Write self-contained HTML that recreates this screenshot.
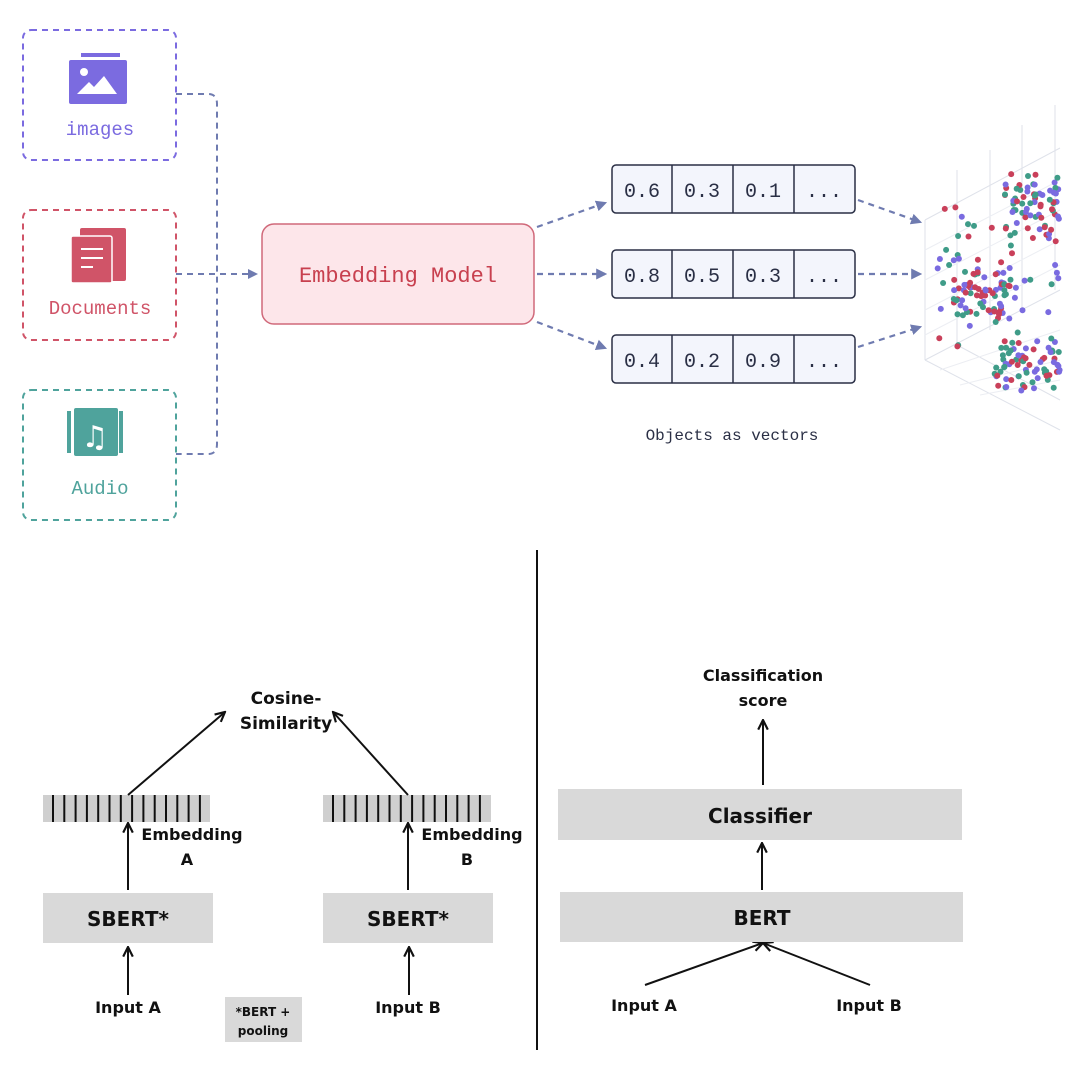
<!DOCTYPE html>
<html><head><meta charset="utf-8"><style>
html,body{margin:0;padding:0;background:#fff;width:1080px;height:1080px;overflow:hidden}
svg{display:block}
.m{font-family:"Liberation Mono","DejaVu Sans Mono",monospace}
.b{font-family:"DejaVu Sans","Liberation Sans",sans-serif;font-weight:bold;fill:#111}
</style></head><body>
<svg id="s" width="1080" height="1080" viewBox="0 0 1080 1080" xmlns="http://www.w3.org/2000/svg">
<defs>
<marker id="ab" viewBox="0 0 10 10" refX="8" refY="5" markerWidth="5" markerHeight="5" orient="auto"><path d="M0,0 L10,5 L0,10 z" fill="#6f7bb0"/></marker>
<marker id="ak" viewBox="0 0 10 10" refX="9" refY="5" markerWidth="6" markerHeight="6" orient="auto"><path d="M1,1 L9,5 L1,9" fill="none" stroke="#111" stroke-width="1.8"/></marker>
</defs>
<rect x="23" y="30" width="153" height="130" rx="8" fill="none" stroke="#7b6be0" stroke-width="2" stroke-dasharray="6,5"/>
<rect x="23" y="210" width="153" height="130" rx="8" fill="none" stroke="#d05468" stroke-width="2" stroke-dasharray="6,5"/>
<rect x="23" y="390" width="153" height="130" rx="8" fill="none" stroke="#4fa39c" stroke-width="2" stroke-dasharray="6,5"/>
<rect x="81" y="53" width="39" height="4" fill="#7b6be0"/>
<rect x="69" y="60" width="58" height="44" rx="2" fill="#7b6be0"/>
<circle cx="84" cy="72" r="4" fill="#fff"/>
<path d="M77,94 L89,82 L94,87 L104,76 L117,94 z" fill="#fff"/>
<rect x="80" y="228" width="46" height="53" rx="2" fill="#d05468"/>
<rect x="71" y="236" width="41" height="47" rx="2" fill="#d05468" stroke="#fff" stroke-width="1.5"/>
<rect x="81" y="248" width="22" height="2" fill="#fff"/><rect x="81" y="257" width="22" height="2" fill="#fff"/><rect x="81" y="266" width="12" height="2" fill="#fff"/>
<rect x="67" y="411" width="4" height="42" fill="#4fa39c"/><rect x="119" y="411" width="4" height="42" fill="#4fa39c"/>
<rect x="74" y="408" width="44" height="48" rx="2" fill="#4fa39c"/>
<text x="95" y="447" font-size="30" fill="#fff" text-anchor="middle" font-family="DejaVu Sans">♫</text>
<text x="100" y="135" class="m" font-size="19" fill="#7b6be0" text-anchor="middle">images</text>
<text x="100" y="314" class="m" font-size="19" fill="#d05468" text-anchor="middle">Documents</text>
<text x="100" y="494" class="m" font-size="19" fill="#4fa39c" text-anchor="middle">Audio</text>
<g fill="none" stroke="#6f7bb0" stroke-width="2" stroke-dasharray="6,5">
<path d="M176,94 H208 Q217,94 217,104 V444 Q217,454 208,454 H176"/>
<path d="M176,274 H256" marker-end="url(#ab)"/>
</g>
<rect x="262" y="224" width="272" height="100" rx="12" fill="#fde6ea" stroke="#d0697a" stroke-width="1.5"/>
<text x="398" y="282" class="m" font-size="22" fill="#c8404f" text-anchor="middle">Embedding Model</text>
<g fill="none" stroke="#6f7bb0" stroke-width="2.2" stroke-dasharray="6,5">
<path d="M537,227 L605,203" marker-end="url(#ab)"/>
<path d="M537,274 L605,274" marker-end="url(#ab)"/>
<path d="M537,322 L605,348" marker-end="url(#ab)"/>
<path d="M858,200 L920,222" marker-end="url(#ab)"/>
<path d="M858,274 L920,274" marker-end="url(#ab)"/>
<path d="M858,347 L920,327" marker-end="url(#ab)"/>
</g>
<g class="m" font-size="20" fill="#2a2f45" text-anchor="middle">
<rect x="612" y="165" width="243" height="48" rx="4" fill="#f3f5fc" stroke="#2a2f45" stroke-width="1.5"/>
<rect x="612" y="250" width="243" height="48" rx="4" fill="#f3f5fc" stroke="#2a2f45" stroke-width="1.5"/>
<rect x="612" y="335" width="243" height="48" rx="4" fill="#f3f5fc" stroke="#2a2f45" stroke-width="1.5"/>
<path d="M672,165V213M733,165V213M794,165V213M672,250V298M733,250V298M794,250V298M672,335V383M733,335V383M794,335V383" stroke="#2a2f45" stroke-width="1.5"/>
<text x="642" y="197">0.6</text><text x="702" y="197">0.3</text><text x="763" y="197">0.1</text><text x="824" y="197">...</text>
<text x="642" y="282">0.8</text><text x="702" y="282">0.5</text><text x="763" y="282">0.3</text><text x="824" y="282">...</text>
<text x="642" y="367">0.4</text><text x="702" y="367">0.2</text><text x="763" y="367">0.9</text><text x="824" y="367">...</text>
</g>
<text x="732" y="440" class="m" font-size="16" fill="#2a2f45" text-anchor="middle">Objects as vectors</text>
<g id="grid" stroke="#dfe2ea" stroke-width="1" fill="none">
<path d="M957,170 V345 M925,220 V360 M990,150 V330 M1022,125 V310 M1055,105 V290"/>
<path d="M925,220 L1060,148 M925,360 L1060,290 M957,345 L1060,400 M925,360 L1060,430"/>
<path d="M925,250 L1060,180 M925,280 L1060,210 M925,310 L1060,240 M925,335 L1060,265" stroke="#eceef3"/>
<path d="M940,370 L1060,330 M960,385 L1060,360 M980,395 L1060,380" stroke="#eceef3"/>
</g>
<g id="dots"></g>
<line x1="537" y1="550" x2="537" y2="1050" stroke="#111" stroke-width="2"/>
<text x="286" y="704" class="b" font-size="17" text-anchor="middle">Cosine-</text>
<text x="286" y="729" class="b" font-size="17" text-anchor="middle">Similarity</text>
<rect x="43" y="795" width="167" height="27" fill="#cfcfcf"/>
<rect x="323" y="795" width="168" height="27" fill="#cfcfcf"/>
<g id="bars" stroke="#111" stroke-width="2"></g>
<g stroke="#111" stroke-width="2" fill="none" marker-end="url(#ak)">
<path d="M128,795 L225,712"/>
<path d="M408,795 L333,712"/>
<path d="M128,890 L128,823"/>
<path d="M408,890 L408,823"/>
<path d="M128,995 L128,947"/>
<path d="M409,995 L409,947"/>
<path d="M763,785 L763,720"/>
<path d="M762,890 L762,843"/>
<path d="M645,985 L763,943"/>
<path d="M870,985 L763,943"/>
</g>
<text x="192" y="840" class="b" font-size="16" text-anchor="middle">Embedding</text>
<text x="187" y="865" class="b" font-size="16" text-anchor="middle">A</text>
<text x="472" y="840" class="b" font-size="16" text-anchor="middle">Embedding</text>
<text x="467" y="865" class="b" font-size="16" text-anchor="middle">B</text>
<rect x="43" y="893" width="170" height="50" fill="#d9d9d9"/>
<rect x="323" y="893" width="170" height="50" fill="#d9d9d9"/>
<text x="128" y="926" class="b" font-size="20" text-anchor="middle">SBERT*</text>
<text x="408" y="926" class="b" font-size="20" text-anchor="middle">SBERT*</text>
<text x="128" y="1013" class="b" font-size="16" text-anchor="middle">Input A</text>
<text x="408" y="1013" class="b" font-size="16" text-anchor="middle">Input B</text>
<rect x="225" y="997" width="77" height="45" fill="#d9d9d9"/>
<text x="263" y="1016" class="b" font-size="12" text-anchor="middle">*BERT +</text>
<text x="263" y="1035" class="b" font-size="12" text-anchor="middle">pooling</text>
<text x="763" y="681" class="b" font-size="16" text-anchor="middle">Classification</text>
<text x="763" y="706" class="b" font-size="16" text-anchor="middle">score</text>
<rect x="558" y="789" width="404" height="51" fill="#d9d9d9"/>
<rect x="560" y="892" width="403" height="50" fill="#d9d9d9"/>
<text x="760" y="823" class="b" font-size="20" text-anchor="middle">Classifier</text>
<text x="762" y="925" class="b" font-size="20" text-anchor="middle">BERT</text>
<text x="644" y="1011" class="b" font-size="16" text-anchor="middle">Input A</text>
<text x="869" y="1011" class="b" font-size="16" text-anchor="middle">Input B</text>
</svg>
<script>
var ns="http://www.w3.org/2000/svg";
var bars=document.getElementById("bars");
[43,323].forEach(function(x0){for(var i=0;i<14;i++){var x=x0+10+i*11.3;var l=document.createElementNS(ns,"line");l.setAttribute("x1",x);l.setAttribute("x2",x);l.setAttribute("y1",795);l.setAttribute("y2",822);bars.appendChild(l);}});
var seed=11;function r(){seed=(seed*16807)%2147483647;return seed/2147483647;}
var g=document.getElementById("dots");var cols=["#c9405a","#7a6be0","#3f9c88"];
var cl=[[1035,205,30,32,75],[985,290,32,30,70],[1030,365,38,28,80],[1000,290,70,90,45]];
cl.forEach(function(c){for(var i=0;i<c[4];i++){var x=c[0]+(r()*2-1)*c[2];var y=c[1]+(r()+r()-1)*c[3]*1.3;if(x>1060||x<935)continue;var d=document.createElementNS(ns,"circle");d.setAttribute("cx",x.toFixed(1));d.setAttribute("cy",y.toFixed(1));d.setAttribute("r",3);d.setAttribute("fill",cols[Math.floor(r()*3)]);g.appendChild(d);}});
</script>
</body></html>
